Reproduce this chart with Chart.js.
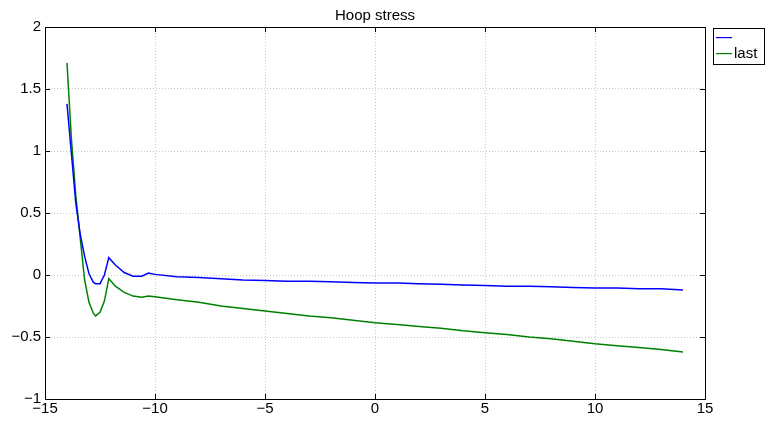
<!DOCTYPE html>
<html>
<head>
<meta charset="utf-8">
<style>
  html, body { margin: 0; padding: 0; background: #fff; }
  #wrap { width: 766px; height: 422px; position: relative; }
</style>
<script src="https://cdn.jsdelivr.net/npm/chart.js@4/dist/chart.umd.min.js"></script>
</head>
<body>
<div id="wrap"><canvas id="c" width="766" height="422"></canvas></div>
<script>
// Positions along the axis
const positions = [-14, -13.8, -13.6, -13.4, -13.2, -13.0, -12.8, -12.7, -12.5, -12.3, -12.1,
  -11.8, -11.4, -11.0, -10.6, -10.3, -10,
  -9, -8, -7, -6, -5, -4, -3, -2, -1, 0, 1, 2, 3, 4, 5, 6, 7, 8, 9, 10, 11, 12, 13, 14];

// First series (unnamed)
const firstStress = [1.38, 0.98, 0.58, 0.33, 0.15, 0.01, -0.06, -0.07, -0.07, 0.0, 0.14,
  0.08, 0.02, -0.01, -0.01, 0.015, 0.005,
  -0.015, -0.02, -0.03, -0.04, -0.045, -0.05, -0.05, -0.055, -0.06, -0.065, -0.065, -0.07, -0.075,
  -0.08, -0.085, -0.09, -0.09, -0.095, -0.1, -0.105, -0.105, -0.11, -0.11, -0.12];

// "last" series
const lastStress = [1.71, 1.10, 0.64, 0.30, -0.04, -0.22, -0.31, -0.33, -0.30, -0.21, -0.03,
  -0.09, -0.14, -0.17, -0.18, -0.17, -0.175,
  -0.20, -0.22, -0.25, -0.27, -0.29, -0.31, -0.33, -0.345, -0.365, -0.385, -0.40, -0.415, -0.43,
  -0.45, -0.465, -0.48, -0.50, -0.515, -0.535, -0.555, -0.57, -0.585, -0.60, -0.62];

const seriesNames = ['', 'last'];
const seriesColors = ['#0000ff', '#008000'];
const chartTitle = 'Hoop stress';

const FONT = '"Liberation Sans", Arial, sans-serif';

function toPoints(ys) { return positions.map((x, i) => ({ x: x, y: ys[i] })); }
function fmt(v) {
  const s = String(Math.round(v * 100) / 100);
  return s.replace('-', '\u2212');
}

// Frame, inward tick marks, title and legend box
const decorations = {
  id: 'decorations',
  afterDraw(chart) {
    const { ctx, chartArea: a, scales } = chart;
    ctx.save();
    ctx.strokeStyle = '#000';
    ctx.lineWidth = 1;
    ctx.strokeRect(Math.round(a.left) + 0.5, Math.round(a.top) + 0.5,
      Math.round(a.right - a.left), Math.round(a.bottom - a.top));
    const tl = 5;
    ctx.beginPath();
    scales.x.ticks.forEach(t => {
      const px = Math.round(scales.x.getPixelForValue(t.value)) + 0.5;
      ctx.moveTo(px, a.bottom); ctx.lineTo(px, a.bottom - tl);
      ctx.moveTo(px, a.top); ctx.lineTo(px, a.top + tl);
    });
    scales.y.ticks.forEach(t => {
      const py = Math.round(scales.y.getPixelForValue(t.value)) + 0.5;
      ctx.moveTo(a.left, py); ctx.lineTo(a.left + tl, py);
      ctx.moveTo(a.right, py); ctx.lineTo(a.right - tl, py);
    });
    ctx.stroke();

    // title
    ctx.fillStyle = '#000';
    ctx.font = '15px ' + FONT;
    ctx.textAlign = 'center';
    ctx.textBaseline = 'middle';
    ctx.fillText(chartTitle, (a.left + a.right) / 2, 16);

    // legend
    const lx = 713, ly = 28, lw = 51, lh = 36;
    ctx.fillStyle = '#fff';
    ctx.fillRect(lx, ly, lw, lh);
    ctx.strokeStyle = '#000';
    ctx.lineWidth = 1;
    ctx.strokeRect(lx + 0.5, ly + 0.5, lw, lh);
    ctx.font = '15px ' + FONT;
    ctx.textAlign = 'left';
    chart.data.datasets.forEach((ds, i) => {
      const yy = ly + 9 + i * 16;
      ctx.fillStyle = seriesColors[i];
      ctx.fillRect(lx + 3, yy, 16, 1.2);
      ctx.fillStyle = '#000';
      ctx.fillText(ds.label, lx + 21, yy + 1);
    });
    ctx.restore();
  }
};

new Chart(document.getElementById('c'), {
  type: 'scatter',
  data: {
    datasets: [
      { label: seriesNames[0], data: toPoints(firstStress), borderColor: seriesColors[0],
        backgroundColor: seriesColors[0], showLine: true, pointRadius: 0, borderWidth: 1.5, tension: 0 },
      { label: seriesNames[1], data: toPoints(lastStress), borderColor: seriesColors[1],
        backgroundColor: seriesColors[1], showLine: true, pointRadius: 0, borderWidth: 1.5, tension: 0 }
    ]
  },
  options: {
    responsive: false,
    animation: false,
    devicePixelRatio: 1,
    layout: { padding: { top: 27, right: 61, left: 0, bottom: 0 } },
    plugins: { legend: { display: false }, title: { display: false }, tooltip: { enabled: false } },
    scales: {
      x: {
        type: 'linear', min: -15, max: 15,
        afterFit(s) { s.height = 23; },
        ticks: { stepSize: 5, color: '#000', font: { family: FONT, size: 15 }, padding: 1, callback: fmt },
        grid: { color: '#c8c8c8', drawTicks: false, tickLength: 0 },
        border: { display: false, dash: [1, 2] }
      },
      y: {
        type: 'linear', min: -1, max: 2,
        afterFit(s) { s.width = 45; },
        ticks: { stepSize: 0.5, color: '#000', font: { family: FONT, size: 15 }, padding: 4, callback: fmt },
        grid: { color: '#c8c8c8', drawTicks: false, tickLength: 0 },
        border: { display: false, dash: [1, 2] }
      }
    }
  },
  plugins: [decorations]
});
</script>
</body>
</html>
